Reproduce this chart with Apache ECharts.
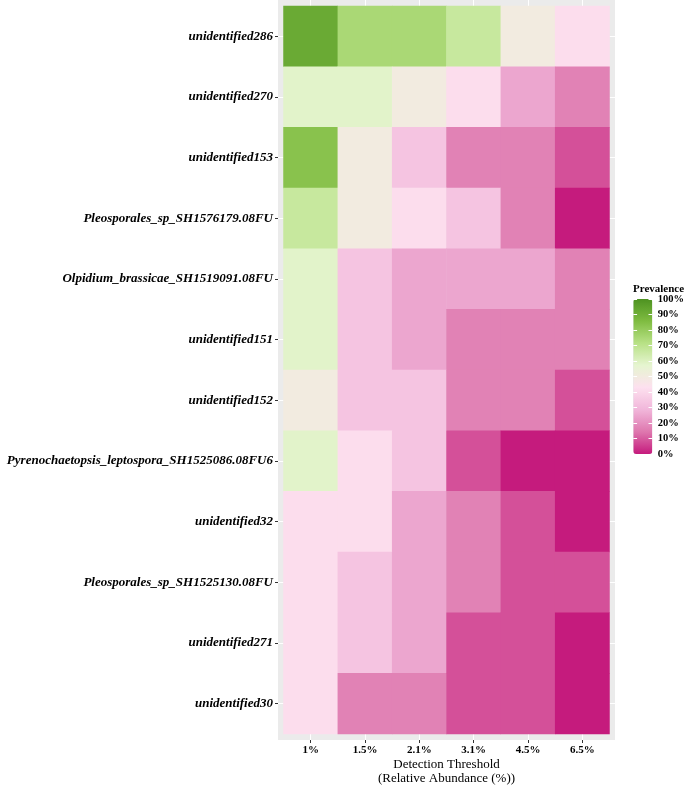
<!DOCTYPE html>
<html><head><meta charset="utf-8">
<script src="https://cdn.jsdelivr.net/npm/echarts@6/dist/echarts.min.js"></script>
<style>html,body{margin:0;padding:0;background:#fff}#c{width:685px;height:785px}</style>
</head><body><div id="c"></div>
<script>
// ---- data ----
const thresholds = ['1%', '1.5%', '2.1%', '3.1%', '4.5%', '6.5%'];
const taxa = [
  'unidentified286',
  'unidentified270',
  'unidentified153',
  'Pleosporales_sp_SH1576179.08FU',
  'Olpidium_brassicae_SH1519091.08FU',
  'unidentified151',
  'unidentified152',
  'Pyrenochaetopsis_leptospora_SH1525086.08FU6',
  'unidentified32',
  'Pleosporales_sp_SH1525130.08FU',
  'unidentified271',
  'unidentified30'
];
// prevalence (%) per taxon, one value per detection threshold
const unidentified286 = [91.7, 75.0, 75.0, 66.7, 50.0, 41.7];
const unidentified270 = [58.3, 58.3, 50.0, 41.7, 25.0, 16.7];
const unidentified153 = [83.3, 50.0, 33.3, 16.7, 16.7, 8.3];
const pleosporales1576179 = [66.7, 50.0, 41.7, 33.3, 16.7, 0.0];
const olpidiumBrassicae = [58.3, 33.3, 25.0, 25.0, 25.0, 16.7];
const unidentified151 = [58.3, 33.3, 25.0, 16.7, 16.7, 16.7];
const unidentified152 = [50.0, 33.3, 33.3, 16.7, 16.7, 8.3];
const pyrenochaetopsis = [58.3, 41.7, 33.3, 8.3, 0.0, 0.0];
const unidentified32 = [41.7, 41.7, 25.0, 16.7, 8.3, 0.0];
const pleosporales1525130 = [41.7, 33.3, 25.0, 16.7, 8.3, 8.3];
const unidentified271 = [41.7, 33.3, 25.0, 8.3, 8.3, 0.0];
const unidentified30 = [41.7, 16.7, 16.7, 8.3, 8.3, 0.0];
const legendBreaks = [0, 10, 20, 30, 40, 50, 60, 70, 80, 90, 100];
const paletteColors = ['#C51B7D', '#DE77AE', '#F1B6DA', '#FDE0EF', '#E6F5D0', '#B8E186', '#7FBC41', '#4D9221'];

const rows = [unidentified286, unidentified270, unidentified153, pleosporales1576179,
  olpidiumBrassicae, unidentified151, unidentified152, pyrenochaetopsis,
  unidentified32, pleosporales1525130, unidentified271, unidentified30];
const heatData = [];
rows.forEach((vals, yi) => vals.forEach((v, xi) => heatData.push([xi, yi, v])));

const FONT = "'Liberation Serif', 'Times New Roman', serif";
const chart = echarts.init(document.getElementById('c'), null, { renderer: 'canvas' });

function stubAxis(dim, pos, len, extra) {
  return Object.assign({
    type: 'category', gridIndex: 1, position: pos,
    data: dim === 'x' ? thresholds : taxa,
    inverse: dim === 'y',
    axisLine: { show: false },
    axisTick: { show: true, alignWithLabel: true, interval: 0, length: len, lineStyle: { color: '#FFFFFF', width: 1.1 } },
    axisLabel: { show: false },
    splitLine: { show: false }
  }, extra || {});
}

chart.setOption({
  animation: false,
  backgroundColor: '#FFFFFF',
  title: {
    text: 'Prevalence', left: 633, top: 284, padding: 0,
    textStyle: { fontFamily: FONT, fontSize: 11, fontWeight: 'bold', color: '#000' }
  },
  grid: [
    { left: 278, top: 0, width: 337, height: 740, show: true, backgroundColor: '#EBEBEB', borderWidth: 0, containLabel: false, outerBoundsMode: 'none' },
    { left: 283.5, top: 6, width: 326, height: 728, containLabel: false, outerBoundsMode: 'none' },
    { left: 633.3, top: 299, width: 19, height: 155, containLabel: false, outerBoundsMode: 'none' }
  ],
  xAxis: [
    { type: 'value', gridIndex: 0, show: false, min: 0, max: 1 },
    stubAxis('x', 'bottom', 6),
    {
      type: 'category', gridIndex: 1, position: 'bottom', offset: 6, data: thresholds,
      axisLine: { show: false },
      axisTick: { show: true, alignWithLabel: true, interval: 0, length: 3, lineStyle: { color: '#333333', width: 1 } },
      axisLabel: { interval: 0, margin: 4.5, fontFamily: FONT, fontSize: 11, fontWeight: 'bold', color: '#000' },
      splitLine: { show: false },
      name: 'Detection Threshold\n(Relative Abundance (%))',
      nameLocation: 'middle', nameGap: 18, nameMoveOverlap: false,
      nameTextStyle: { fontFamily: FONT, fontSize: 13, lineHeight: 14, color: '#000' }
    },
    stubAxis('x', 'top', 6),
    { type: 'value', gridIndex: 2, show: false, min: 0, max: 1 }
  ],
  yAxis: [
    { type: 'value', gridIndex: 0, show: false, min: 0, max: 1 },
    stubAxis('y', 'left', 5.5),
    {
      type: 'category', gridIndex: 1, position: 'left', offset: 5.5, data: taxa, inverse: true,
      axisLine: { show: false },
      axisTick: { show: true, alignWithLabel: true, interval: 0, length: 3, lineStyle: { color: '#333333', width: 1 } },
      axisLabel: { interval: 0, margin: 5, fontFamily: FONT, fontSize: 13, fontWeight: 'bold', fontStyle: 'italic', color: '#000' },
      splitLine: { show: false }
    },
    stubAxis('y', 'right', 5.5),
    {
      type: 'value', gridIndex: 2, position: 'left', min: 0, max: 100, interval: 10, z: 10,
      axisLine: { show: false },
      axisTick: { show: true, inside: true, length: 3.8, lineStyle: { color: '#FFFFFF', width: 1 } },
      axisLabel: { show: false },
      splitLine: { show: false }
    },
    {
      type: 'value', gridIndex: 2, position: 'right', min: 0, max: 100, interval: 10, z: 10,
      axisLine: { show: false },
      axisTick: { show: true, inside: true, length: 3.8, lineStyle: { color: '#FFFFFF', width: 1 } },
      axisLabel: {
        show: true, margin: 5.5, fontFamily: FONT, fontSize: 10.5, fontWeight: 'bold', color: '#000',
        formatter: v => (legendBreaks.indexOf(v) >= 0 ? v + '%' : '')
      },
      splitLine: { show: false }
    }
  ],
  visualMap: {
    type: 'continuous', min: 0, max: 100, dimension: 2, seriesIndex: 0,
    orient: 'vertical', left: 633.3, top: 299, itemWidth: 19, itemHeight: 155,
    calculable: false, padding: 0, text: null, show: true,
    inRange: { color: paletteColors }
  },
  series: [{
    type: 'heatmap', xAxisIndex: 2, yAxisIndex: 2, data: heatData,
    itemStyle: { borderWidth: 0 },
    emphasis: { disabled: true },
    label: { show: false }
  }]
});
</script></body></html>
